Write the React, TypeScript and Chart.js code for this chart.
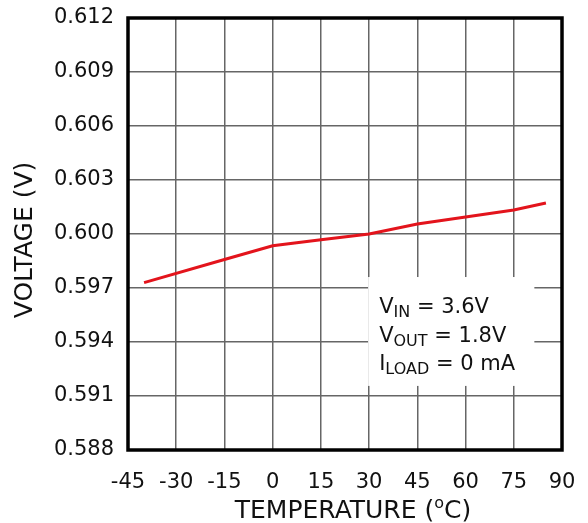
import React, { useEffect, useRef } from 'react';
import { Chart, registerables } from 'chart.js';

Chart.register(...registerables);

// ---- data ----
const temperatures = [-40, -15, 0, 15, 30, 45, 60, 75, 85];
const voltages = [0.5973, 0.59858, 0.59935, 0.59968, 0.6, 0.60056, 0.60094, 0.60133, 0.60172];

const xMin = -45;
const xMax = 90;
const xStep = 15;
const yMin = 0.588;
const yMax = 0.612;
const yStep = 0.003;

const xTitleMain = 'TEMPERATURE (';
const xTitleSup = 'o';
const xTitleEnd = 'C)';
const yTitle = 'VOLTAGE (V)';

// annotation box extent in data units (temperature, voltage)
const noteBoxX = [29.7, 81.4];
const noteBoxY = [0.59156, 0.59761];
const noteLines = [
  [{ t: 'V', sub: false }, { t: 'IN', sub: true }, { t: ' = 3.6V', sub: false }],
  [{ t: 'V', sub: false }, { t: 'OUT', sub: true }, { t: ' = 1.8V', sub: false }],
  [{ t: 'I', sub: false }, { t: 'LOAD', sub: true }, { t: ' = 0 mA', sub: false }],
];

const FONT = '"DejaVu Sans", "Liberation Sans", Arial, sans-serif';

const overlayPlugin = {
  id: 'overlay',
  beforeDatasetsDraw(chart: any) {
    const { ctx, scales } = chart;
    const x = scales.x;
    const y = scales.y;
    const l = x.getPixelForValue(noteBoxX[0]);
    const r = x.getPixelForValue(noteBoxX[1]);
    const t = y.getPixelForValue(noteBoxY[1]);
    const b = y.getPixelForValue(noteBoxY[0]);
    ctx.save();
    ctx.fillStyle = '#ffffff';
    ctx.fillRect(l, t, r - l, b - t);
    ctx.restore();
  },
  afterDatasetsDraw(chart: any) {
    const { ctx, scales, chartArea: a } = chart;
    const x = scales.x;
    const y = scales.y;
    ctx.save();
    // frame
    ctx.strokeStyle = '#000';
    ctx.lineWidth = 3.5;
    ctx.strokeRect(a.left, a.top, a.right - a.left, a.bottom - a.top);

    // annotation text
    const l = x.getPixelForValue(noteBoxX[0]);
    const t = y.getPixelForValue(noteBoxY[1]);
    ctx.fillStyle = '#111';
    ctx.textBaseline = 'alphabetic';
    ctx.textAlign = 'left';
    noteLines.forEach((line, i) => {
      let cx = l + 11;
      const base = t + 36 + i * 28.5;
      line.forEach((seg) => {
        ctx.font = seg.sub ? `16px ${FONT}` : `21px ${FONT}`;
        ctx.fillText(seg.t, cx, seg.sub ? base + 4 : base);
        cx += ctx.measureText(seg.t).width;
      });
    });

    // x axis title
    const titleFont = `25px ${FONT}`;
    const supFont = `16px ${FONT}`;
    ctx.font = titleFont;
    const w1 = ctx.measureText(xTitleMain).width;
    const w3 = ctx.measureText(xTitleEnd).width;
    ctx.font = supFont;
    const w2 = ctx.measureText(xTitleSup).width;
    const total = w1 + w2 + w3;
    const cxm = (a.left + a.right) / 2 + 8;
    let tx = cxm - total / 2;
    const tb = 518;
    ctx.font = titleFont;
    ctx.fillText(xTitleMain, tx, tb);
    tx += w1;
    ctx.font = supFont;
    ctx.fillText(xTitleSup, tx, tb - 10);
    tx += w2;
    ctx.font = titleFont;
    ctx.fillText(xTitleEnd, tx, tb);

    // y axis title
    ctx.translate(25, (a.top + a.bottom) / 2 + 6);
    ctx.rotate(-Math.PI / 2);
    ctx.font = `25px ${FONT}`;
    ctx.textAlign = 'center';
    ctx.textBaseline = 'middle';
    ctx.fillText(yTitle, 0, 0);
    ctx.restore();
  },
};

export default function App() {
  const ref = useRef<HTMLCanvasElement | null>(null);

  useEffect(() => {
    if (!ref.current) return;
    const chart = new Chart(ref.current, {
      type: 'line',
      data: {
        datasets: [
          {
            data: temperatures.map((t, i) => ({ x: t, y: voltages[i] })),
            borderColor: '#e3141c',
            borderWidth: 3,
            pointRadius: 0,
            tension: 0,
            fill: false,
          },
        ],
      },
      options: {
        animation: false,
        responsive: false,
        devicePixelRatio: 1,
        layout: { padding: { top: 18, right: 26, left: 0, bottom: 0 } },
        plugins: {
          legend: { display: false },
          tooltip: { enabled: false },
        },
        scales: {
          x: {
            type: 'linear',
            min: xMin,
            max: xMax,
            afterFit: (s: any) => {
              s.height = 73;
              s.paddingLeft = 0;
              s.paddingRight = 0;
            },
            ticks: {
              stepSize: xStep,
              color: '#111',
              padding: 20,
              maxRotation: 0,
              font: { family: FONT, size: 21 },
            },
            grid: { color: '#666', lineWidth: 1.5, drawTicks: false },
            border: { display: false },
          },
          y: {
            type: 'linear',
            min: yMin,
            max: yMax,
            afterFit: (s: any) => {
              s.width = 128;
              s.paddingTop = 0;
              s.paddingBottom = 0;
            },
            ticks: {
              stepSize: yStep,
              color: '#111',
              padding: 14,
              font: { family: FONT, size: 21 },
              callback: (v: any) => Number(v).toFixed(3),
            },
            grid: { color: '#666', lineWidth: 1.5, drawTicks: false },
            border: { display: false },
          },
        },
      },
      plugins: [overlayPlugin],
    });
    return () => chart.destroy();
  }, []);

  return (
    <div style={{ position: 'fixed', left: 0, top: 0, width: 588, height: 523, background: '#fff' }}>
      <canvas ref={ref} width={588} height={523} style={{ display: 'block' }} />
    </div>
  );
}
